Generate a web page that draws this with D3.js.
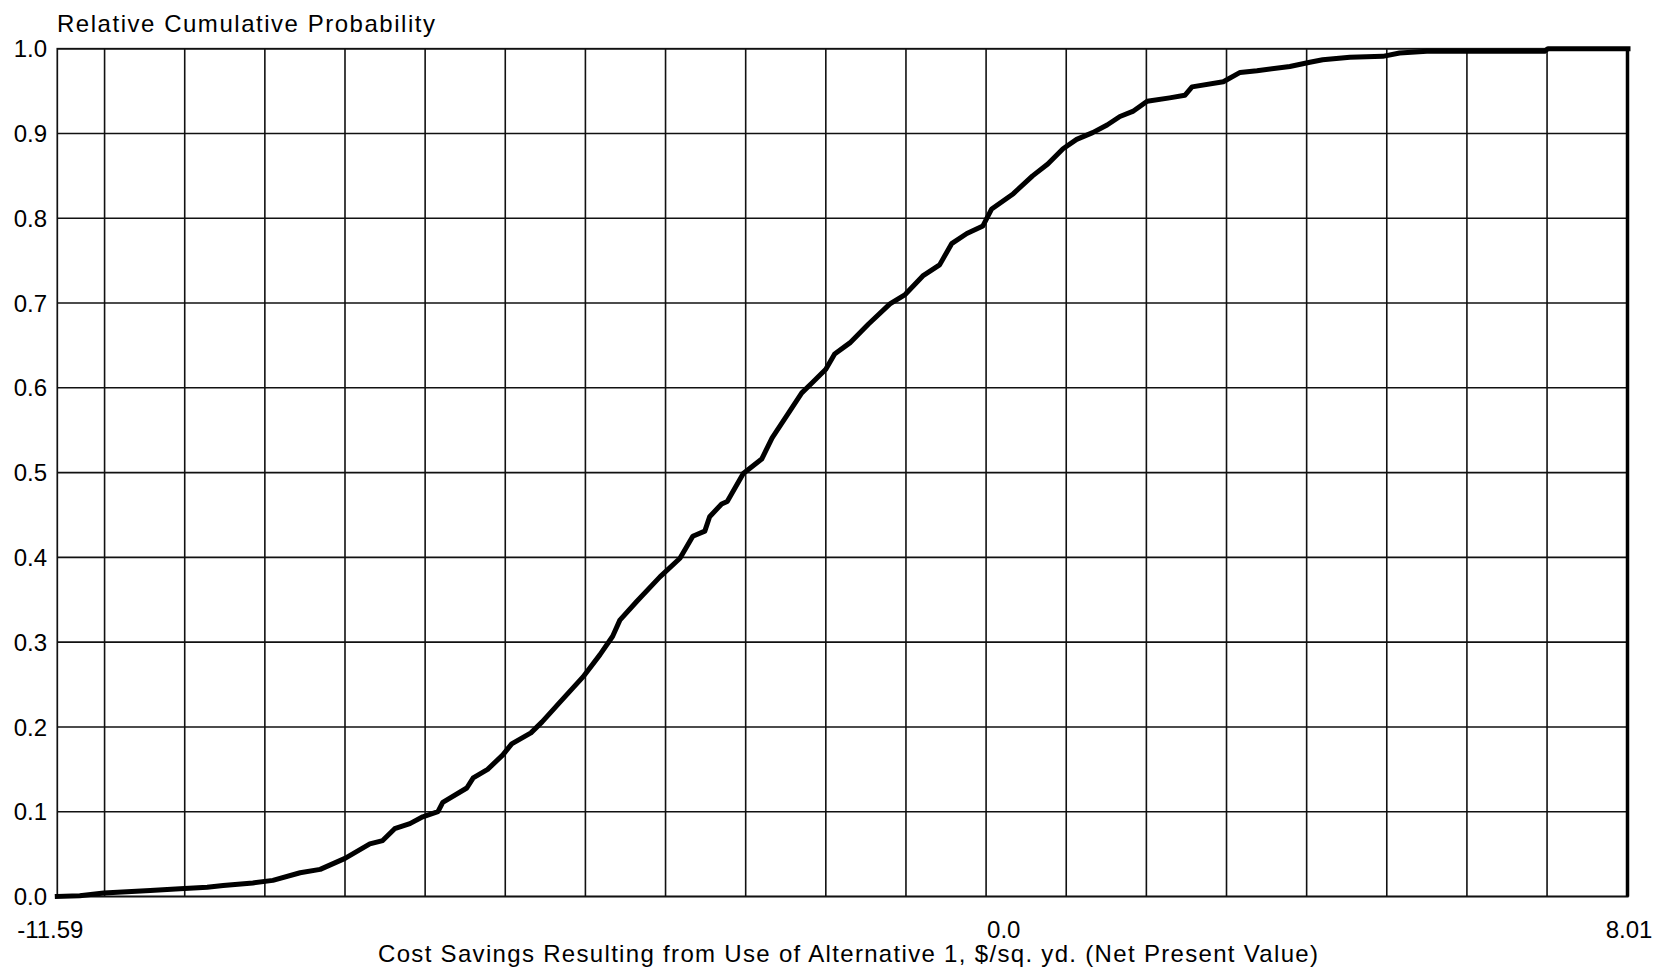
<!DOCTYPE html>
<html>
<head>
<meta charset="utf-8">
<script src="https://cdn.jsdelivr.net/npm/d3@7"></script>
<style>
  body { margin: 0; background: #fff; }
  text { font-family: "Liberation Sans", Arial, sans-serif; fill: #000; }
</style>
</head>
<body>
<svg id="chart" width="1660" height="973"></svg>
<script>
// Simulated net present value of cost savings ($/sq. yd.) and its cumulative probability
const savings = [
  -11.59, -11.31, -11.01, -10.43, -10.06, -9.72, -9.52, -9.15, -8.90, -8.56,
  -8.31, -8.00, -7.69, -7.53, -7.38, -7.19, -7.03, -6.84, -6.78, -6.48,
  -6.40, -6.22, -6.03, -5.92, -5.68, -5.54, -5.32, -5.03, -4.82, -4.66,
  -4.57, -4.36, -4.07, -3.82, -3.66, -3.51, -3.45, -3.30, -3.23, -3.03,
  -2.80, -2.67, -2.46, -2.30, -2.17, -2.00, -1.89, -1.70, -1.47, -1.20,
  -1.01, -0.79, -0.58, -0.43, -0.24, -0.04, 0.07, 0.34, 0.58, 0.77,
  0.96, 1.13, 1.33, 1.51, 1.67, 1.83, 2.01, 2.29, 2.48, 2.57,
  2.96, 3.17, 3.38, 3.79, 4.04, 4.20, 4.54, 4.95, 5.16, 5.50,
  6.97, 7.01, 8.01
];
const cumProb = [
  0.000, 0.001, 0.004, 0.007, 0.009, 0.011, 0.013, 0.016, 0.019, 0.028,
  0.032, 0.045, 0.062, 0.066, 0.080, 0.086, 0.094, 0.100, 0.111, 0.128,
  0.140, 0.150, 0.167, 0.180, 0.193, 0.206, 0.229, 0.259, 0.285, 0.307,
  0.326, 0.348, 0.377, 0.399, 0.425, 0.431, 0.448, 0.463, 0.466, 0.499,
  0.516, 0.541, 0.571, 0.594, 0.606, 0.622, 0.640, 0.653, 0.675, 0.699,
  0.710, 0.732, 0.745, 0.770, 0.782, 0.791, 0.811, 0.829, 0.850, 0.864,
  0.882, 0.893, 0.901, 0.910, 0.920, 0.926, 0.938, 0.942, 0.945, 0.955,
  0.961, 0.972, 0.974, 0.979, 0.984, 0.987, 0.990, 0.991, 0.995, 0.997,
  0.997, 1.000, 1.000
];

const yTickValues = [0.0, 0.1, 0.2, 0.3, 0.4, 0.5, 0.6, 0.7, 0.8, 0.9, 1.0];
const xGridValues = [-11, -10, -9, -8, -7, -6, -5, -4, -3, -2, -1, 0, 1, 2, 3, 4, 5, 6, 7, 8];
const xLabelValues = [-11.59, 0.0, 8.01];
const xLabelText = ["-11.59", "0.0", "8.01"];

const yTitle = "Relative Cumulative Probability";
const xTitle = "Cost Savings Resulting from Use of Alternative 1, $/sq. yd. (Net Present Value)";

const plot = { left: 57.3, right: 1628, top: 48.7, bottom: 896.5 };

const x = d3.scaleLinear().domain([-11.59, 8.01]).range([plot.left, plot.right]);
const y = d3.scaleLinear().domain([0, 1]).range([plot.bottom, plot.top]);

const svg = d3.select("#chart");

// grid
const grid = svg.append("g").attr("stroke", "#111").attr("stroke-width", 1.6);
grid.selectAll("line.v").data(xGridValues).join("line")
  .attr("class", "v")
  .attr("x1", d => x(d)).attr("x2", d => x(d))
  .attr("y1", plot.top).attr("y2", plot.bottom);
grid.selectAll("line.h").data(yTickValues).join("line")
  .attr("class", "h")
  .attr("x1", plot.left).attr("x2", plot.right)
  .attr("y1", d => y(d)).attr("y2", d => y(d));

// frame
svg.append("rect")
  .attr("x", plot.left).attr("y", plot.top)
  .attr("width", plot.right - plot.left).attr("height", plot.bottom - plot.top)
  .attr("fill", "none").attr("stroke", "#111").attr("stroke-width", 1.7);
svg.append("line")
  .attr("x1", plot.right - 0.5).attr("x2", plot.right - 0.5)
  .attr("y1", plot.top).attr("y2", plot.bottom)
  .attr("stroke", "#000").attr("stroke-width", 3.5);

// y tick labels
svg.append("g").selectAll("text").data(yTickValues).join("text")
  .attr("x", 47).attr("y", d => y(d)).attr("dy", "0.36em")
  .attr("text-anchor", "end").attr("font-size", 24)
  .text(d => d.toFixed(1));

// x tick labels
const xLabelAnchor = ["middle", "start", "middle"];
const xLabelShift = [-7, 1, 1];
svg.append("g").selectAll("text").data(xLabelValues).join("text")
  .attr("x", (d, i) => x(d) + xLabelShift[i]).attr("y", 938)
  .attr("text-anchor", (d, i) => xLabelAnchor[i]).attr("font-size", 24)
  .text((d, i) => xLabelText[i]);

// titles
svg.append("text").attr("x", 57).attr("y", 32).attr("font-size", 24)
  .attr("textLength", 378).attr("lengthAdjust", "spacing").text(yTitle);
svg.append("text").attr("x", 378).attr("y", 962).attr("font-size", 24)
  .attr("textLength", 940).attr("lengthAdjust", "spacing").text(xTitle);

// cumulative distribution curve
const line = d3.line().x(d => x(d[0])).y(d => y(d[1])).curve(d3.curveLinear);
svg.append("path")
  .datum(savings.map((s, i) => [s, cumProb[i]]))
  .attr("fill", "none").attr("stroke", "#000")
  .attr("stroke-width", 5).attr("stroke-linejoin", "round").attr("stroke-linecap", "square")
  .attr("d", line);
</script>
</body>
</html>
